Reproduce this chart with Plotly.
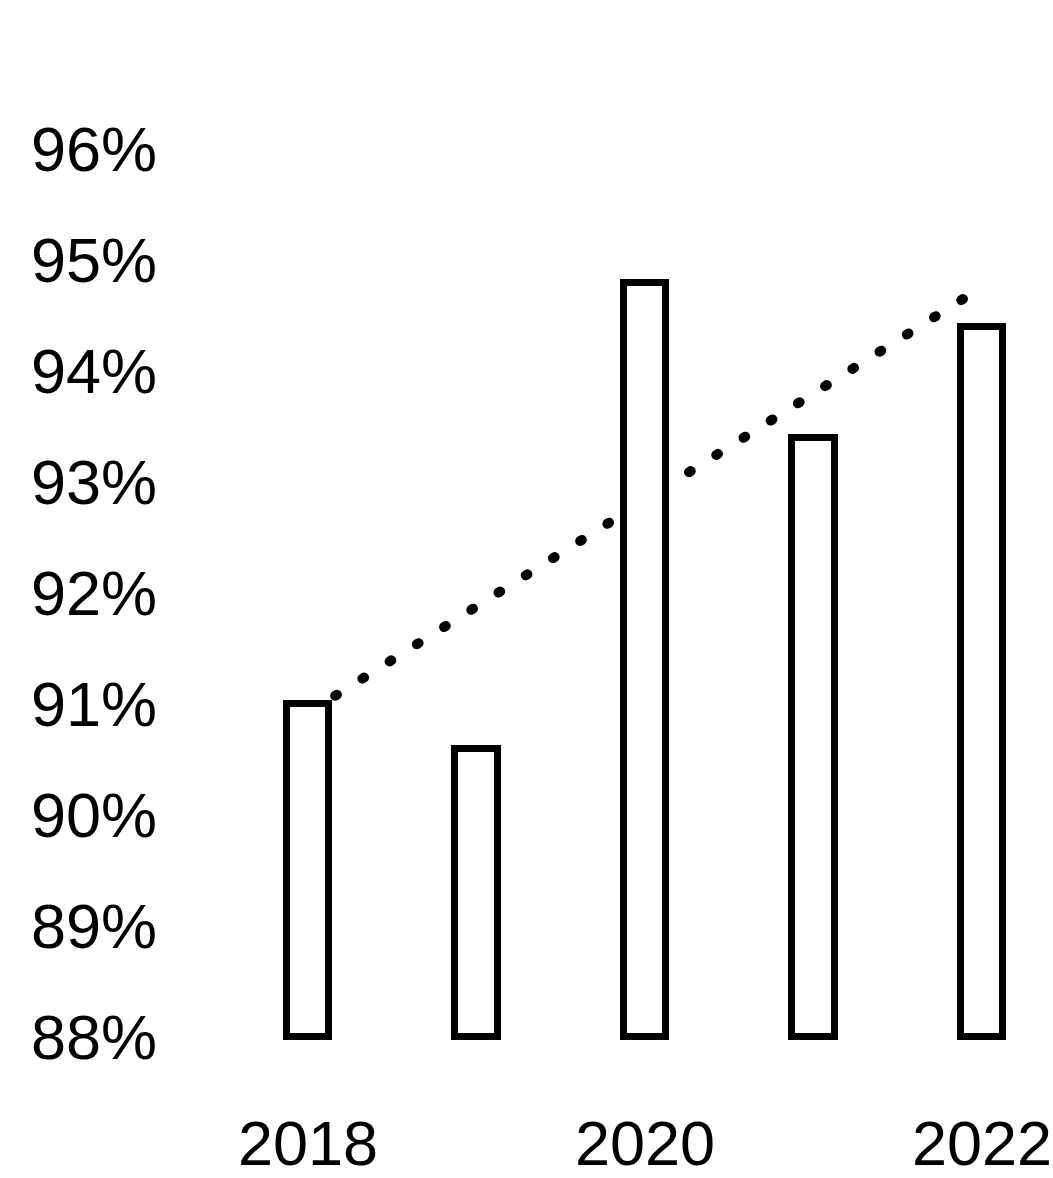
import numpy as np
import plotly.graph_objects as go

# Annual share (%) per year
years = [2018, 2019, 2020, 2021, 2022]
shares = [91.0, 90.6, 94.8, 93.4, 94.4]

# Axis ticks
y_ticks = [88, 89, 90, 91, 92, 93, 94, 95, 96]
y_tick_labels = ["88%", "89%", "90%", "91%", "92%", "93%", "94%", "95%", "96%"]
x_ticks = [2018, 2020, 2022]
x_tick_labels = ["2018", "2020", "2022"]

BASE = 88.0
FONT = "Liberation Sans"

# Linear trend of the yearly shares
slope, intercept = np.polyfit(years, shares, 1)
trend_x = [years[0], years[-1]]
trend_y = [intercept + slope * x for x in trend_x]

fig = go.Figure()

# Dotted trend line (drawn on the base subplot, underneath the bars)
fig.add_trace(go.Scatter(
    x=trend_x, y=trend_y, mode="lines",
    line=dict(color="black", width=10, dash="2px,30.2px"),
    hoverinfo="skip", showlegend=False,
))

# Outlined bars on an overlaid subplot so they sit above the trend line
fig.add_trace(go.Bar(
    x=years, y=[v - BASE for v in shares], base=BASE,
    width=0.255,
    marker=dict(color="white", line=dict(color="black", width=7)),
    customdata=shares,
    hovertemplate="%{x}: %{customdata}%<extra></extra>",
    xaxis="x2", yaxis="y2", showlegend=False,
))

x_range = [2017.1217, 2022.4214]
y_range = [87.946, 96.986]

fig.update_layout(
    width=1053, height=1178,
    margin=dict(l=160, r=0, t=40, b=131),
    paper_bgcolor="white", plot_bgcolor="white",
    font=dict(family=FONT, size=63, color="black"),
    xaxis=dict(
        range=x_range, tickmode="array", tickvals=x_ticks, ticktext=x_tick_labels,
        showgrid=False, zeroline=False, showline=False, ticks="",
        ticklabelstandoff=58,
    ),
    yaxis=dict(
        range=y_range, tickmode="array", tickvals=y_ticks, ticktext=y_tick_labels,
        showgrid=False, zeroline=False, showline=False, ticks="",
        ticklabelstandoff=2,
    ),
    xaxis2=dict(overlaying="x", matches="x", visible=False),
    yaxis2=dict(overlaying="y", matches="y", visible=False),
    bargap=0,
)

round_caps = """
var gd = document.getElementById('{plot_id}');
function roundCaps() {
  gd.querySelectorAll('.scatterlayer .js-line').forEach(function (p) {
    p.style.strokeLinecap = 'round';
  });
}
roundCaps();
if (gd.on) { gd.on('plotly_afterplot', roundCaps); }
"""

fig.write_html("out.html", post_script=round_caps)
